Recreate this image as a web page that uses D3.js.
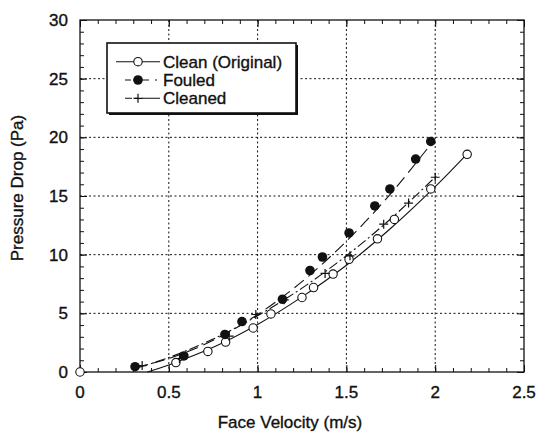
<!DOCTYPE html>
<html>
<head>
<meta charset="utf-8">
<script src="https://cdn.jsdelivr.net/npm/d3@7"></script>
<style>
  html, body { margin: 0; padding: 0; background: #fff; }
  svg { display: block; }
  text { font-family: "Liberation Sans", Arial, sans-serif; fill: #111; stroke: #111; stroke-width: 0.35px; }
</style>
</head>
<body>
<svg id="chart" width="537" height="432"></svg>
<script>
// ---------- data ----------
const cleanX  = [0, 0.54, 0.72, 0.82, 0.975, 1.075, 1.25, 1.315, 1.425, 1.515, 1.675, 1.77, 1.975, 2.18];
const cleanY  = [0, 0.8, 1.75, 2.55, 3.75, 4.95, 6.35, 7.2, 8.35, 9.6, 11.35, 13.0, 15.6, 18.55];

const fouledX = [0.31, 0.585, 0.816, 0.912, 1.14, 1.295, 1.365, 1.515, 1.66, 1.745, 1.89, 1.975];
const fouledY = [0.45, 1.37, 3.2, 4.3, 6.2, 8.65, 9.8, 11.85, 14.15, 15.6, 18.15, 19.65];

const cleanedX = [0.35, 0.56, 0.84, 0.99, 1.15, 1.38, 1.52, 1.71, 1.85, 2.0];
const cleanedY = [0.55, 1.15, 3.05, 4.9, 6.15, 8.4, 9.9, 12.6, 14.4, 16.6];

// fitted curves
const cleanFitX   = [0.38, 0.5, 0.75, 1.0, 1.25, 1.5, 1.75, 2.0, 2.18];
const cleanFitY   = [0.0, 0.6, 2.1, 4.05, 6.4, 9.1, 12.25, 15.8, 18.6];
const fouledFitX  = [0.31, 0.5, 0.75, 1.0, 1.25, 1.5, 1.75, 1.99];
const fouledFitY  = [0.38, 1.15, 2.7, 4.9, 7.7, 11.15, 15.2, 19.7];
const cleanedFitX = [0.33, 0.5, 0.75, 1.0, 1.25, 1.5, 1.75, 2.02];
const cleanedFitY = [0.38, 1.23, 2.81, 4.79, 7.15, 9.91, 13.06, 16.9];

const seriesNames = ["Clean (Original)", "Fouled", "Cleaned"];
const xTicks = [0, 0.5, 1, 1.5, 2, 2.5];
const yTicks = [0, 5, 10, 15, 20, 25, 30];
const xTickLabels = ["0", "0.5", "1", "1.5", "2", "2.5"];
const yTickLabels = ["0", "5", "10", "15", "20", "25", "30"];
const xTitle = "Face Velocity (m/s)";
const yTitle = "Pressure Drop (Pa)";

// ---------- layout ----------
const L = 80, R = 524, T = 20, B = 372;
const FS = 17;
const svg = d3.select("#chart");
const x = d3.scaleLinear().domain([0, 2.5]).range([L, R]);
const y = d3.scaleLinear().domain([0, 30]).range([B, T]);

const zip = (a, b) => a.map((v, i) => [v, b[i]]);

// grid (dotted)
const grid = svg.append("g").attr("stroke", "#111").attr("stroke-width", 1)
  .attr("stroke-dasharray", "2,2.5").attr("fill", "none");
xTicks.filter(t => t > 0 && t < 2.5).forEach(t => {
  grid.append("line").attr("x1", x(t)).attr("x2", x(t)).attr("y1", T).attr("y2", B);
});
yTicks.filter(t => t > 0 && t < 30).forEach(t => {
  grid.append("line").attr("x1", L).attr("x2", R).attr("y1", y(t)).attr("y2", y(t));
});

// axes with inward ticks on all four sides
const minorX = d3.range(0, 2.5001, 0.1);
const minorY = d3.range(0, 30.001, 1);
const axB = d3.axisBottom(x).tickValues(minorX).tickSize(-4).tickFormat("");
const axT = d3.axisTop(x).tickValues(minorX).tickSize(-4).tickFormat("");
const axL = d3.axisLeft(y).tickValues(minorY).tickSize(-4).tickFormat("");
const axR = d3.axisRight(y).tickValues(minorY).tickSize(-4).tickFormat("");
const axBM = d3.axisBottom(x).tickValues(xTicks).tickSize(-7).tickFormat("");
const axTM = d3.axisTop(x).tickValues(xTicks).tickSize(-7).tickFormat("");
const axLM = d3.axisLeft(y).tickValues(yTicks).tickSize(-7).tickFormat("");
const axRM = d3.axisRight(y).tickValues(yTicks).tickSize(-7).tickFormat("");
[[axB, `translate(0,${B})`], [axT, `translate(0,${T})`], [axL, `translate(${L},0)`], [axR, `translate(${R},0)`],
 [axBM, `translate(0,${B})`], [axTM, `translate(0,${T})`], [axLM, `translate(${L},0)`], [axRM, `translate(${R},0)`]]
  .forEach(([ax, tr]) => {
    const g = svg.append("g").attr("transform", tr).call(ax);
    g.select(".domain").remove();
    g.selectAll("line").attr("stroke", "#111").attr("stroke-width", 1);
  });
svg.append("rect").attr("x", L).attr("y", T).attr("width", R - L).attr("height", B - T)
  .attr("fill", "none").attr("stroke", "#111").attr("stroke-width", 1.3);

// tick labels
svg.append("g").selectAll("text").data(xTicks).join("text")
  .attr("x", d => x(d)).attr("y", 398).attr("text-anchor", "middle")
  .attr("font-size", FS).text((d, i) => xTickLabels[i]);
svg.append("g").selectAll("text").data(yTicks).join("text")
  .attr("x", 68).attr("y", d => y(d)).attr("dy", "0.36em").attr("text-anchor", "end")
  .attr("font-size", FS).text((d, i) => yTickLabels[i]);

// axis titles
svg.append("text").attr("x", 290).attr("y", 428).attr("text-anchor", "middle")
  .attr("font-size", FS).text(xTitle);
svg.append("text").attr("transform", "translate(23,188) rotate(-90)").attr("text-anchor", "middle")
  .attr("font-size", FS).text(yTitle);

// fitted lines
const line = d3.line().x(d => x(d[0])).y(d => y(d[1])).curve(d3.curveCatmullRom);
const styles = [
  { dash: null,        fitX: cleanFitX,   fitY: cleanFitY },
  { dash: "12,6",      fitX: fouledFitX,  fitY: fouledFitY },
  { dash: "10,3,2,3",  fitX: cleanedFitX, fitY: cleanedFitY }
];
styles.forEach(s => {
  svg.append("path").datum(zip(s.fitX, s.fitY)).attr("d", line)
    .attr("fill", "none").attr("stroke", "#111").attr("stroke-width", 1.1)
    .attr("stroke-dasharray", s.dash);
});

// markers
function drawMarker(g, kind, cx, cy) {
  if (kind === 0) {
    g.append("circle").attr("cx", cx).attr("cy", cy).attr("r", 4.2)
      .attr("fill", "#fff").attr("stroke", "#111").attr("stroke-width", 1.1);
  } else if (kind === 1) {
    g.append("circle").attr("cx", cx).attr("cy", cy).attr("r", 4.8).attr("fill", "#111");
  } else {
    g.append("path").attr("d", `M${cx - 4.5},${cy}H${cx + 4.5}M${cx},${cy - 4.5}V${cy + 4.5}`)
      .attr("stroke", "#111").attr("stroke-width", 1.2);
  }
}
const mk = svg.append("g");
zip(cleanX, cleanY).forEach(d => drawMarker(mk, 0, x(d[0]), y(d[1])));
zip(cleanedX, cleanedY).forEach(d => drawMarker(mk, 2, x(d[0]), y(d[1])));
zip(fouledX, fouledY).forEach(d => drawMarker(mk, 1, x(d[0]), y(d[1])));

// legend
const lg = svg.append("g");
lg.append("rect").attr("x", 109).attr("y", 45).attr("width", 189).attr("height", 70).attr("fill", "#111");
lg.append("rect").attr("x", 107).attr("y", 43).attr("width", 189).attr("height", 70)
  .attr("fill", "#fff").attr("stroke", "#111").attr("stroke-width", 1.6);
const rowY = [61.7, 80, 98.3];
seriesNames.forEach((name, i) => {
  lg.append("line").attr("x1", i === 0 ? 116 : 125).attr("x2", 160).attr("y1", rowY[i]).attr("y2", rowY[i])
    .attr("stroke", "#111").attr("stroke-width", 1.1)
    .attr("stroke-dasharray", i === 0 ? null : (i === 1 ? "6,2,16" : "7,3,3,4,20"));
  drawMarker(lg, i, 138, rowY[i]);
  lg.append("text").attr("x", 163).attr("y", rowY[i]).attr("dy", "0.36em")
    .attr("font-size", FS).text(name);
});
</script>
</body>
</html>
